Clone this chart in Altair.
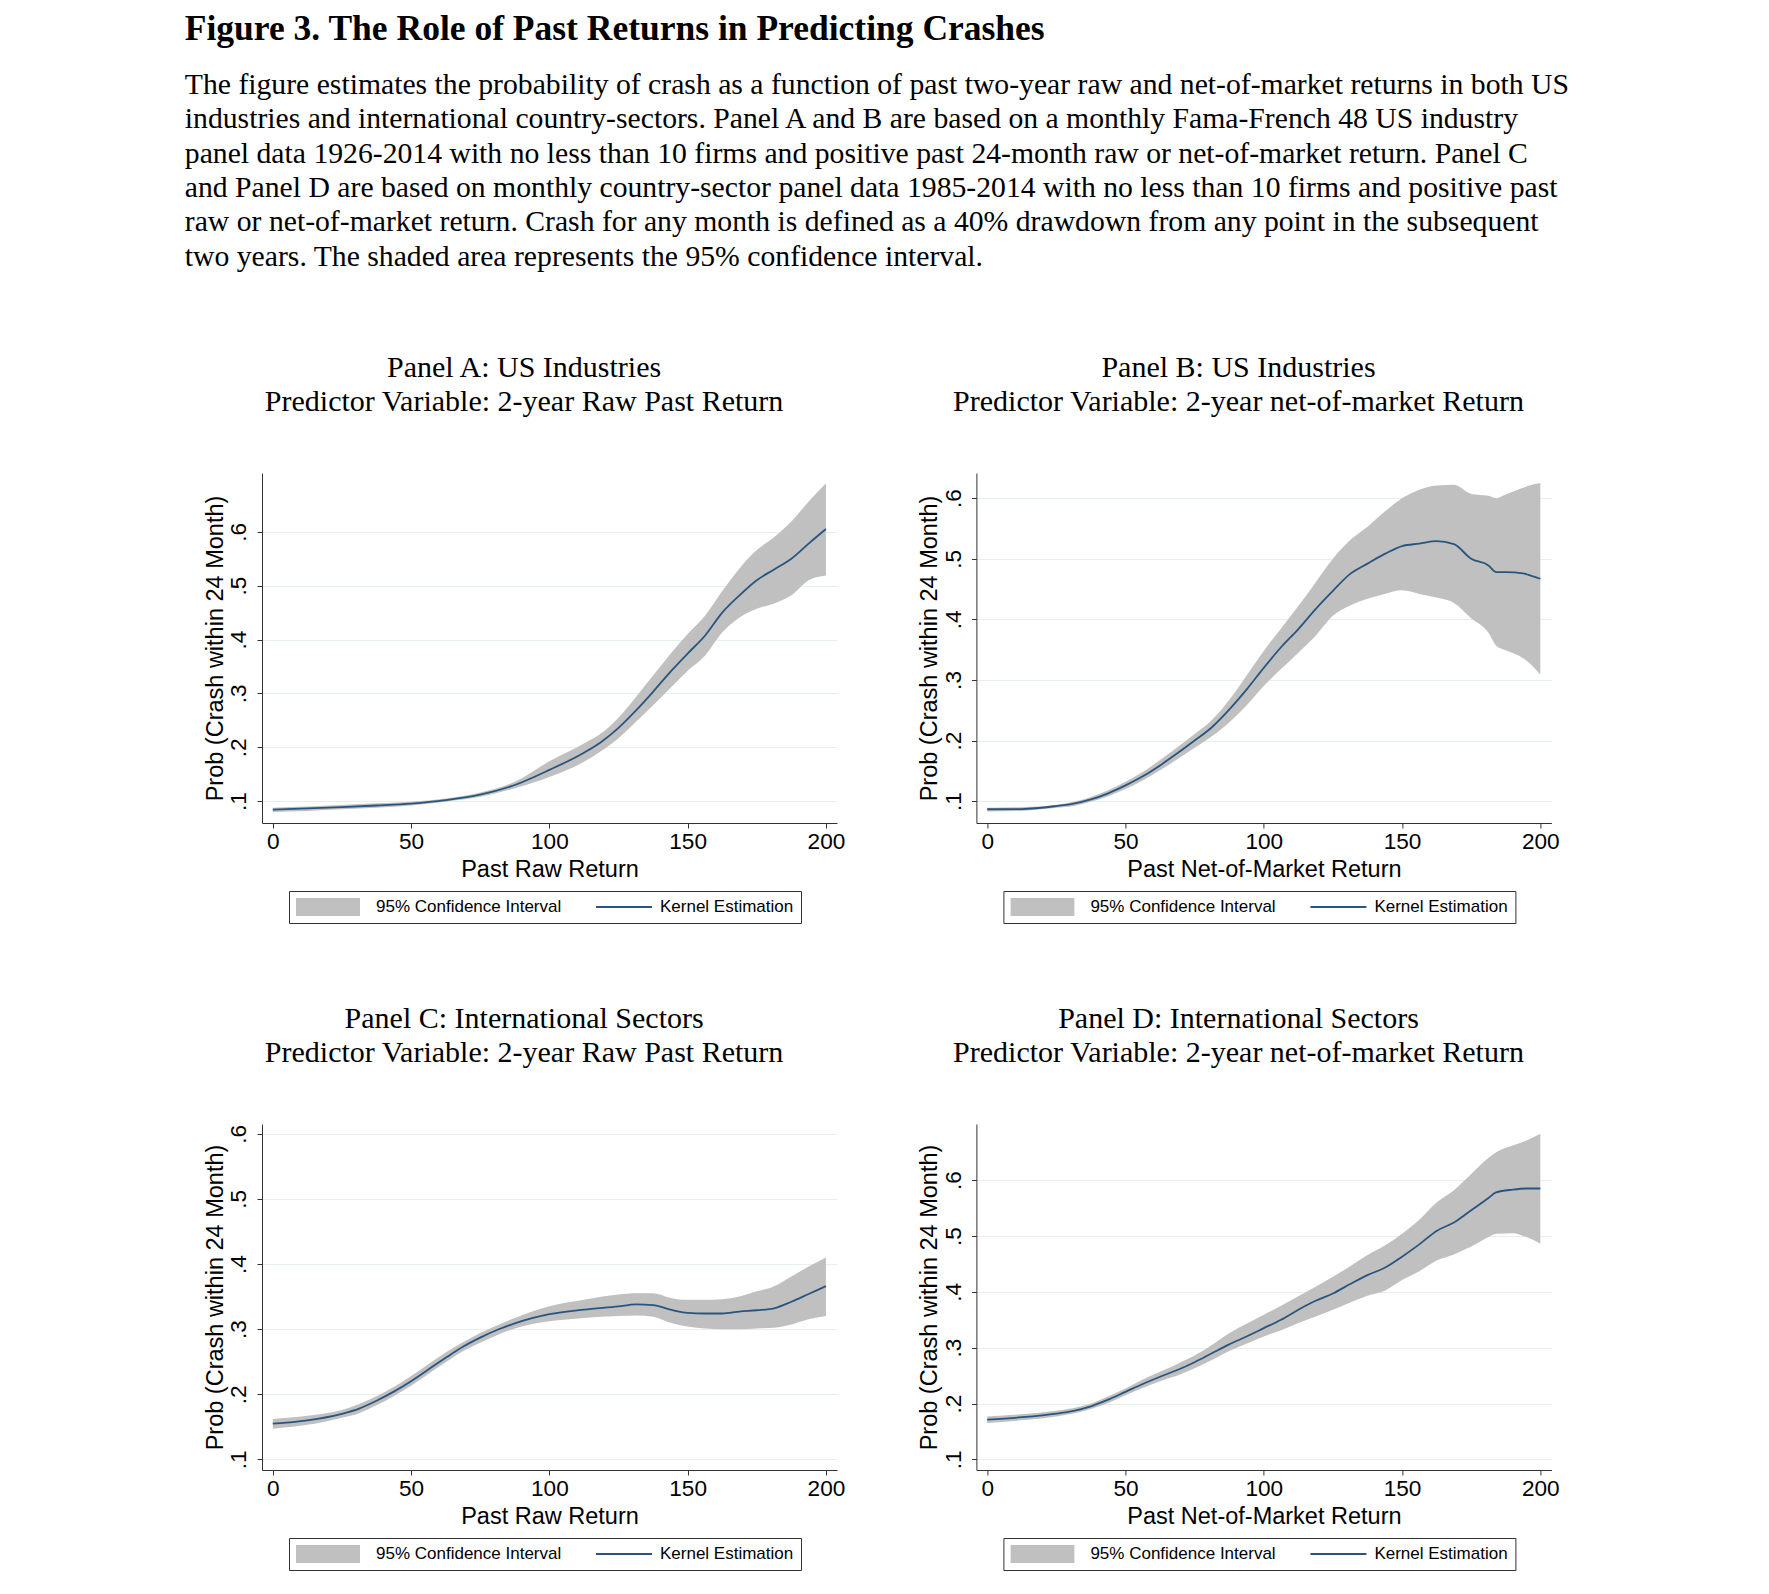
import altair as alt
import pandas as pd

TITLE = "Figure 3. The Role of Past Returns in Predicting Crashes"
BODY = [
    "The figure estimates the probability of crash as a function of past two-year raw and net-of-market returns in both US",
    "industries and international country-sectors. Panel A and B are based on a monthly Fama-French 48 US industry",
    "panel data 1926-2014 with no less than 10 firms and positive past 24-month raw or net-of-market return. Panel C",
    "and Panel D are based on monthly country-sector panel data 1985-2014 with no less than 10 firms and positive past",
    "raw or net-of-market return. Crash for any month is defined as a 40% drawdown from any point in the subsequent",
    "two years. The shaded area represents the 95% confidence interval.",
]

CI = "95% Confidence Interval"
KE = "Kernel Estimation"
Y_TITLE = "Prob (Crash within 24 Month)"
X_TICKS = [0, 50, 100, 150, 200]
Y_TICKS = [0.1, 0.2, 0.3, 0.4, 0.5, 0.6]

# Panel A: US industries, raw return
xA = [0, 12.5, 25, 37.5, 50, 62.5, 75, 87.5, 100, 112.5, 118.75, 125, 131.25, 137.5, 143.75,
      150, 156.25, 162.5, 168.75, 175, 181.25, 187.5, 193.75, 200]
yA = [0.0844, 0.0865, 0.089, 0.092, 0.0956, 0.102, 0.112, 0.130, 0.158, 0.190, 0.210, 0.236,
      0.268, 0.303, 0.340, 0.374, 0.407, 0.450, 0.482, 0.510, 0.530, 0.550, 0.578, 0.605]
hiA = [0.088, 0.090, 0.093, 0.096, 0.099, 0.105, 0.116, 0.136, 0.174, 0.207, 0.226, 0.255,
       0.293, 0.333, 0.373, 0.410, 0.444, 0.490, 0.532, 0.566, 0.590, 0.619, 0.656, 0.690]
loA = [0.080, 0.082, 0.085, 0.088, 0.092, 0.099, 0.108, 0.124, 0.145, 0.173, 0.193, 0.217,
       0.247, 0.278, 0.310, 0.342, 0.370, 0.413, 0.441, 0.457, 0.467, 0.482, 0.510, 0.519]

# Panel B: US industries, net-of-market return
xB = [0, 12.5, 25, 31.25, 37.5, 43.75, 50, 56.25, 62.5, 68.75, 75, 81.25, 87.5, 93.75, 100,
      106.25, 112.5, 118.75, 125, 131.25, 137.5, 143.75, 150, 156.25, 162.5, 168.75, 175,
      181.25, 184, 187.5, 193.75, 196, 200]
yB = [0.0867, 0.087, 0.092, 0.096, 0.103, 0.113, 0.126, 0.141, 0.159, 0.179, 0.200, 0.222,
      0.251, 0.284, 0.320, 0.354, 0.384, 0.417, 0.447, 0.475, 0.492, 0.508, 0.521, 0.525,
      0.529, 0.524, 0.500, 0.489, 0.478, 0.478, 0.476, 0.473, 0.467]
hiB = [0.089, 0.090, 0.094, 0.099, 0.107, 0.118, 0.132, 0.148, 0.168, 0.189, 0.211, 0.234,
       0.267, 0.307, 0.348, 0.385, 0.422, 0.461, 0.500, 0.531, 0.553, 0.578, 0.600, 0.614,
       0.621, 0.622, 0.607, 0.604, 0.600, 0.606, 0.617, 0.621, 0.625]
loB = [0.083, 0.084, 0.089, 0.092, 0.099, 0.108, 0.120, 0.134, 0.151, 0.169, 0.188, 0.207,
       0.230, 0.258, 0.290, 0.318, 0.345, 0.373, 0.406, 0.423, 0.434, 0.442, 0.448, 0.442,
       0.436, 0.427, 0.402, 0.378, 0.357, 0.349, 0.336, 0.328, 0.309]

# Panel C: international sectors, raw return
xC = [0, 12.5, 25, 31.25, 37.5, 43.75, 50, 56.25, 62.5, 68.75, 75, 81.25, 87.5, 93.75, 100,
      112.5, 125, 131.25, 137.5, 143.75, 150, 156.25, 162.5, 168.75, 175, 181.25, 187.5,
      193.75, 200]
yC = [0.155, 0.160, 0.170, 0.178, 0.190, 0.204, 0.220, 0.238, 0.256, 0.273, 0.287, 0.299,
      0.309, 0.317, 0.323, 0.330, 0.335, 0.338, 0.337, 0.330, 0.325, 0.324, 0.324, 0.327,
      0.329, 0.332, 0.342, 0.354, 0.366]
hiC = [0.162, 0.167, 0.176, 0.185, 0.197, 0.211, 0.228, 0.246, 0.264, 0.280, 0.294, 0.306,
       0.317, 0.327, 0.335, 0.345, 0.353, 0.355, 0.355, 0.348, 0.345, 0.345, 0.346, 0.350,
       0.358, 0.366, 0.381, 0.396, 0.410]
loC = [0.147, 0.153, 0.164, 0.171, 0.183, 0.197, 0.213, 0.231, 0.249, 0.266, 0.279, 0.291,
       0.301, 0.308, 0.312, 0.317, 0.320, 0.321, 0.319, 0.310, 0.304, 0.301, 0.300, 0.300,
       0.301, 0.302, 0.307, 0.315, 0.320]

# Panel D: international sectors, net-of-market return
xD = [0, 12.5, 25, 31.25, 37.5, 43.75, 50, 56.25, 62.5, 68.75, 75, 81.25, 87.5, 93.75, 100,
      106.25, 112.5, 118.75, 125, 131.25, 137.5, 143.75, 150, 156.25, 162.5, 168.75, 175,
      181.25, 184, 190, 195, 200]
yD = [0.1713, 0.1755, 0.182, 0.187, 0.195, 0.207, 0.221, 0.235, 0.248, 0.260, 0.274, 0.290,
      0.306, 0.320, 0.335, 0.350, 0.368, 0.384, 0.397, 0.414, 0.430, 0.443, 0.463, 0.485,
      0.509, 0.524, 0.546, 0.568, 0.578, 0.583, 0.585, 0.585]
hiD = [0.177, 0.181, 0.187, 0.192, 0.200, 0.213, 0.227, 0.243, 0.257, 0.271, 0.286, 0.305,
       0.326, 0.343, 0.359, 0.375, 0.392, 0.409, 0.427, 0.446, 0.466, 0.483, 0.504, 0.529,
       0.560, 0.582, 0.611, 0.640, 0.650, 0.662, 0.671, 0.683]
loD = [0.165, 0.170, 0.177, 0.182, 0.190, 0.201, 0.215, 0.228, 0.240, 0.250, 0.263, 0.278,
       0.294, 0.307, 0.320, 0.331, 0.344, 0.356, 0.368, 0.381, 0.393, 0.402, 0.421, 0.437,
       0.456, 0.467, 0.481, 0.498, 0.504, 0.505, 0.498, 0.486]

GRAY = "#c0c0c0"
NAVY = "#28557f"
SANS = "Liberation Sans"
SERIF = "Liberation Serif"
PW = 575


def panel(x, y, lo, hi, ydom, lines, xtitle, ph):
    df = pd.DataFrame({"x": x, "y": y, "lo": lo, "hi": hi})
    xs = alt.Scale(domain=[-3.9, 204], nice=False, zero=False)
    ys = alt.Scale(domain=ydom, nice=False, zero=False)
    xaxis = alt.Axis(values=X_TICKS, title=xtitle, grid=False, labelFlush=False,
                     labelPadding=2, titlePadding=5)
    yaxis = alt.Axis(values=Y_TICKS, title=Y_TITLE, grid=True, labelAngle=270,
                     labelAlign="center", labelBaseline="bottom", labelPadding=6.2,
                     labelFlush=False, titlePadding=0.4,
                     labelExpr="replace(format(datum.value, '.1f'), '0.', '.')")
    leg = alt.Legend(title=None, orient="none", legendX=27, legendY=ph + 68,
                     direction="horizontal", symbolType="stroke", symbolSize=4096,
                     clipHeight=18, labelFont=SANS, labelFontSize=17, labelLimit=0,
                     labelColor="black", labelOffset=7,
                     symbolOffset={"expr": "-9"},
                     columnPadding=34, padding=7, strokeColor="#333", fillColor="white")
    cdom = [CI, KE]
    crange = [GRAY, NAVY]
    band = (
        alt.Chart(df)
        .transform_calculate(series=f'"{CI}"')
        .mark_area(interpolate="monotone")
        .encode(
            x=alt.X("x:Q", scale=xs, axis=xaxis),
            y=alt.Y("lo:Q", scale=ys, axis=yaxis),
            y2="hi:Q",
            fill=alt.Fill("series:N", scale=alt.Scale(domain=cdom, range=crange), legend=leg),
        )
    )
    line = (
        alt.Chart(df)
        .transform_calculate(series=f'"{KE}"')
        .mark_line(interpolate="monotone")
        .encode(
            x="x:Q",
            y="y:Q",
            stroke=alt.Stroke("series:N", scale=alt.Scale(domain=cdom, range=crange), legend=leg),
            strokeWidth=alt.StrokeWidth(
                "series:N", scale=alt.Scale(domain=cdom, range=[18, 1.8]), legend=leg
            ),
        )
    )
    return alt.layer(band, line).properties(
        width=PW,
        height=ph,
        title=alt.TitleParams(text=lines, font=SERIF, fontSize=30, fontWeight="normal",
                              lineHeight=34, anchor="middle", frame="bounds",
                              color="black", offset=56.4),
    )


pA = panel(xA, yA, loA, hiA, [0.0595, 0.709],
           ["Panel A: US Industries", "Predictor Variable: 2-year Raw Past Return"],
           "Past Raw Return", 350)
pB = panel(xB, yB, loB, hiB, [0.064, 0.6415],
           ["Panel B: US Industries", "Predictor Variable: 2-year net-of-market Return"],
           "Past Net-of-Market Return", 350)
pC = panel(xC, yC, loC, hiC, [0.0837, 0.615],
           ["Panel C: International Sectors", "Predictor Variable: 2-year Raw Past Return"],
           "Past Raw Return", 346)
pD = panel(xD, yD, loD, hiD, [0.081, 0.7005],
           ["Panel D: International Sectors", "Predictor Variable: 2-year net-of-market Return"],
           "Past Net-of-Market Return", 346)


def indep(c):
    return c.resolve_scale(
        fill="independent", stroke="independent", strokeWidth="independent"
    ).resolve_legend(
        fill="independent", stroke="independent", strokeWidth="independent"
    )


row1 = indep(alt.hconcat(pA, pB, spacing=72.4))
row2 = indep(alt.hconcat(pC, pD, spacing=72.4))
chart = (
    indep(alt.vconcat(row1, row2, spacing=79))
    .properties(
        title=alt.TitleParams(
            text=TITLE, subtitle=BODY, anchor="start", frame="bounds",
            font=SERIF, fontSize=35.5, fontWeight="bold", color="black",
            subtitleFont=SERIF, subtitleFontSize=29.7, subtitleColor="black",
            subtitleLineHeight=34.4, subtitlePadding=23, offset=81, dx=-18.6,
        ),
        padding={"left": 176, "top": 4, "right": 10, "bottom": 10},
        background="white",
    )
    .configure_view(stroke=None)
    .configure_axis(
        labelFont=SANS, labelFontSize=22.6, labelColor="black",
        titleFont=SANS, titleFontSize=23.5, titleFontWeight="normal", titleColor="black",
        domainColor="#333", domainWidth=1, tickColor="#333", tickSize=5, tickWidth=1,
        gridColor="#e6eeef", gridWidth=1,
    )
)

chart.save("out.html", embed_options={"renderer": "svg", "actions": False})
